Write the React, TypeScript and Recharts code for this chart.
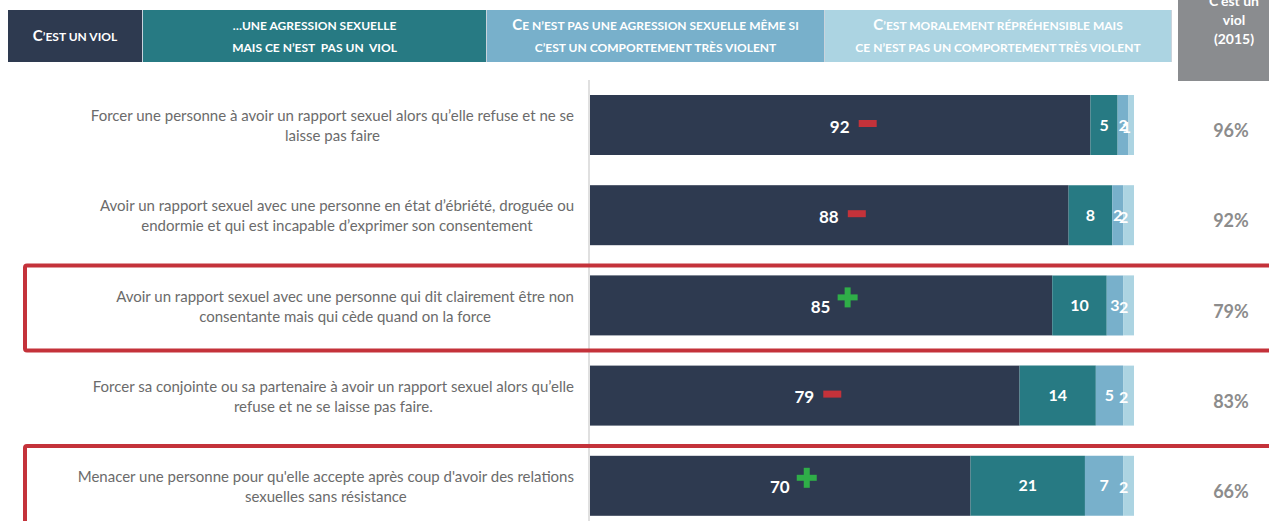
import React from "react"
import { BarChart, Bar, XAxis, YAxis, LabelList } from "recharts"

const categories = [
  ["Forcer une personne à avoir un rapport sexuel alors qu’elle refuse et ne se", "laisse pas faire"],
  ["Avoir un rapport sexuel avec une personne en état d’ébriété, droguée ou", "endormie et qui est incapable d’exprimer son consentement"],
  ["Avoir un rapport sexuel avec une personne qui dit clairement être non", "consentante mais qui cède quand on la force"],
  ["Forcer sa conjointe ou sa partenaire à avoir un rapport sexuel alors qu’elle", "refuse et ne se laisse pas faire."],
  ["Menacer une personne pour qu'elle accepte après coup d'avoir des relations", "sexuelles sans résistance"],
]
const viol = [92, 88, 85, 79, 70]
const agression = [5, 8, 10, 14, 21]
const violent = [2, 2, 3, 5, 7]
const moral = [1, 2, 2, 2, 2]
const viol2015 = [96, 92, 79, 83, 66]
const trend = ["-", "-", "+", "-", "+"]
const highlighted = [false, false, true, false, true]

const legendItems = [
  { label: ["C’est un viol"], color: "#2e3a50" },
  { label: ["…une agression sexuelle", "mais ce n’est  pas un  viol"], color: "#277a83" },
  { label: ["Ce n’est pas une agression sexuelle même si", "c’est un comportement très violent"], color: "#78b0cb" },
  { label: ["C’est moralement répréhensible mais", "ce n’est pas un comportement très violent"], color: "#acd4e2" },
]
const legendWidths = [135, 344, 338, 347]

const COLORS = {
  viol: "#2e3a50",
  agression: "#277a83",
  violent: "#78b0cb",
  moral: "#acd4e2",
}
const RED = "#c4323a"
const GREEN = "#2fae48"
const FONT = "Lato, 'Open Sans', sans-serif"

const data = categories.map((lines, i) => ({
  key: lines.join(" "),
  lines,
  viol: viol[i],
  agression: agression[i],
  violent: violent[i],
  moral: moral[i],
  viol2015: viol2015[i],
  trend: trend[i],
  highlighted: highlighted[i],
}))

// small caps by hand: real capitals a bit bigger than the rest
function SmallCaps({ text }: { text: string }) {
  return (
    <>
      {Array.from(text).map((ch, i) => {
        const isCap = ch !== ch.toLowerCase()
        return (
          <span key={i} style={{ fontSize: isCap ? 15 : 12 }}>
            {ch.toUpperCase()}
          </span>
        )
      })}
    </>
  )
}

function CategoryTick(props: any) {
  const { y, payload } = props
  const row = data.find((d) => d.key === payload.value)
  if (!row) return null
  return (
    <g>
      {row.highlighted && (
        <rect x={25} y={y - 40} width={1300} height={85} fill="none" stroke={RED} strokeWidth={4} rx={2} />
      )}
      <foreignObject x={0} y={y - 25} width={574} height={50}>
        <div
          style={{
            display: "flex",
            justifyContent: "flex-end",
            alignItems: "center",
            height: 50,
            fontFamily: FONT,
            fontSize: 15,
            lineHeight: "20px",
            color: "#6b6b6b",
          }}
        >
          <div style={{ textAlign: "center", whiteSpace: "nowrap" }}>
            {row.lines.map((l, k) => (
              <div key={k}>{l}</div>
            ))}
          </div>
        </div>
      </foreignObject>
      <text
        x={1231}
        y={y + 5}
        textAnchor="middle"
        dominantBaseline="central"
        fontFamily={FONT}
        fontWeight={700}
        fontSize={18}
        fill="#8c8c8c"
      >
        {row.viol2015}%
      </text>
    </g>
  )
}

function ViolShape(props: any) {
  const { x, y, width, height, fill, payload } = props
  const cx = x + width / 2
  const cy = y + height / 2
  return (
    <g>
      <rect x={x} y={y} width={width} height={height} fill={fill} />
      <text
        x={cx}
        y={cy + 1}
        textAnchor="middle"
        dominantBaseline="central"
        fontFamily={FONT}
        fontWeight={700}
        fontSize={17}
        fill="#fff"
      >
        {payload.viol}
      </text>
      {payload.trend === "-" ? (
        <rect x={cx + 19} y={cy - 5} width={18} height={7} fill={RED} />
      ) : (
        <g fill={GREEN}>
          <rect x={cx + 17} y={cy - 11} width={20} height={6} />
          <rect x={cx + 24} y={cy - 18} width={6} height={20} />
        </g>
      )}
    </g>
  )
}

const segLabel = { fill: "#fff", fontFamily: FONT, fontWeight: 700, fontSize: 16 }

function MoralLabel(props: any) {
  const { x, y, width, height, value } = props
  return (
    <text
      x={x + width / 2 - 5}
      y={y + height / 2 + 1}
      textAnchor="middle"
      dominantBaseline="central"
      {...segLabel}
    >
      {value}
    </text>
  )
}

export default function App() {
  return (
    <div style={{ position: "absolute", left: 0, top: 0, width: 1269, height: 521, overflow: "hidden", background: "#fff" }}>
      <div style={{ position: "absolute", left: 8, top: 10, display: "flex", height: 52 }}>
        {legendItems.map((item, i) => (
          <div
            key={i}
            style={{
              width: legendWidths[i],
              height: 52,
              background: item.color,
              borderRight: "1px solid #c9d3dc",
              boxSizing: "border-box",
              display: "flex",
              flexDirection: "column",
              justifyContent: "center",
              alignItems: "center",
              color: "#fff",
              fontFamily: FONT,
              fontWeight: 700,
              lineHeight: "20px",
              whiteSpace: "pre",
            }}
          >
            {item.label.map((l, k) => (
              <div key={k}>
                <SmallCaps text={l} />
              </div>
            ))}
          </div>
        ))}
      </div>
      <div
        style={{
          position: "absolute",
          left: 1178,
          top: 0,
          width: 112,
          height: 81,
          background: "#8a8c8f",
        }}
      />
      <div
        style={{
          position: "absolute",
          left: 1178,
          top: -9,
          width: 112,
          textAlign: "center",
          color: "#fff",
          fontFamily: FONT,
          fontWeight: 700,
          fontSize: 14,
          lineHeight: "19px",
        }}
      >
        <div>C’est un</div>
        <div>viol</div>
        <div>(2015)</div>
      </div>
      <div style={{ position: "absolute", left: 0, top: 0 }}>
        <BarChart
          width={1269}
          height={531}
          data={data}
          layout="vertical"
          margin={{ top: 80, right: 135, bottom: 0, left: 0 }}
        >
          <XAxis type="number" domain={[0, 100]} hide height={0} />
          <YAxis
            type="category"
            dataKey="key"
            width={589}
            axisLine={{ stroke: "#e0e0e0", strokeWidth: 2 }}
            tickLine={false}
            tick={<CategoryTick />}
            interval={0}
          />
          <Bar dataKey="viol" stackId="a" fill={COLORS.viol} barSize={60} isAnimationActive={false} shape={<ViolShape />} />
          <Bar dataKey="agression" stackId="a" fill={COLORS.agression} barSize={60} isAnimationActive={false}>
            <LabelList dataKey="agression" position="center" style={segLabel} />
          </Bar>
          <Bar dataKey="violent" stackId="a" fill={COLORS.violent} barSize={60} isAnimationActive={false}>
            <LabelList dataKey="violent" position="center" style={segLabel} />
          </Bar>
          <Bar dataKey="moral" stackId="a" fill={COLORS.moral} barSize={60} isAnimationActive={false}>
            <LabelList dataKey="moral" content={<MoralLabel />} />
          </Bar>
        </BarChart>
      </div>
    </div>
  )
}
